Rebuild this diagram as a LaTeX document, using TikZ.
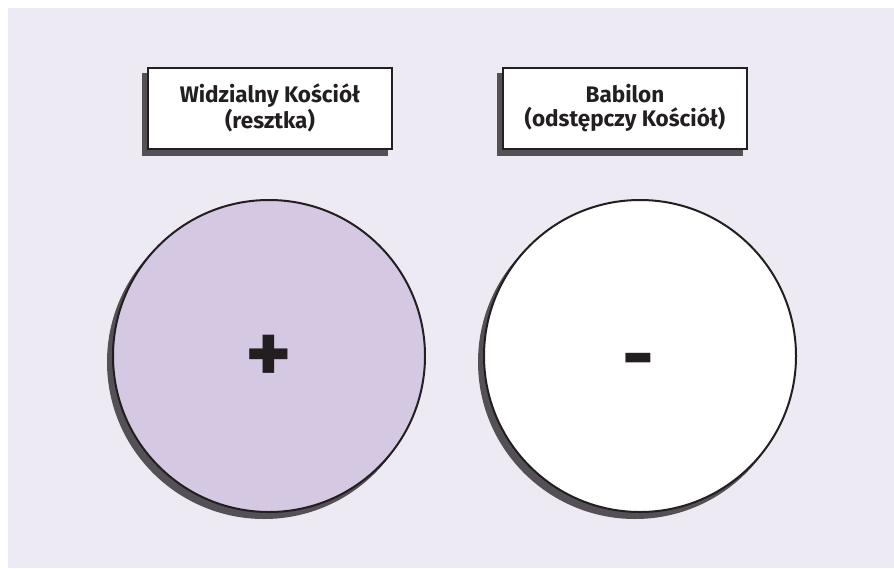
\documentclass[tikz,border=0pt]{standalone}
\usepackage{fontspec}
\setmainfont{Fira Sans}
\definecolor{bgcol}{HTML}{EDEAF4}
\definecolor{lilac}{HTML}{D5C8E2}
\definecolor{shadowcol}{HTML}{555055}
\definecolor{inkcol}{HTML}{231F20}
\tikzset{
    titlebox/.style={draw=inkcol, line width=2pt, fill=white, minimum width=244pt,
        minimum height=81pt, align=center, font=\fontsize{22.5}{23.5}\selectfont\bfseries,
        text=inkcol, inner sep=0pt},
    disc/.style={circle, draw=inkcol, line width=2pt, minimum size=312pt, inner sep=0pt},
    boxshadow/.style={fill=shadowcol, draw=none, minimum width=246pt, minimum height=83pt},
    discshadow/.style={circle, fill=shadowcol, draw=none, minimum size=314pt, inner sep=0pt},
    sign/.style={text=inkcol, inner sep=0pt}
}
\begin{document}
\begin{tikzpicture}[x=1pt, y=-1pt]
    \useasboundingbox (0, 0) rectangle (894, 568);
    \fill[bgcol] (8, 8) rectangle (894, 568);

    % shadows
    \node[boxshadow] (shA) at (265, 114) {};
    \node[boxshadow] (shB) at (620, 114) {};
    \node[discshadow] (shL) at (264, 362) {};
    \node[discshadow] (shR) at (635, 362) {};

    % titles
    \node[titlebox] (visible) at (270, 108) {Widzialny Kościół\\(resztka)};
    \node[titlebox] (babylon) at (625, 108) {Babilon\\(odstępczy Kościół)};

    % circles
    \node[disc, fill=lilac] (remnant) at (269, 356) {};
    \node[disc, fill=white] (apostate) at (640, 356) {};

    \node[sign, font=\fontsize{88}{88}\selectfont\bfseries] (plus) at (268.5, 359) {+};
    \node[sign, font=\fontsize{78}{78}\selectfont\bfseries] (minus) at (638.5, 368) {-};
\end{tikzpicture}
\end{document}
